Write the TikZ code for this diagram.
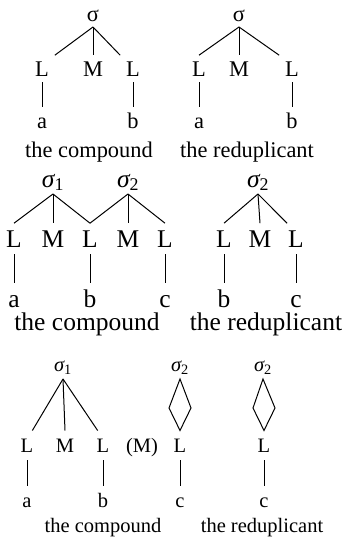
\documentclass[tikz,border=0pt]{standalone}
\usepackage{fontspec}
\setmainfont{Liberation Serif}
\newcommand{\syl}[1]{{\itshape σ}\textsubscript{#1}}

\begin{document}
\begin{tikzpicture}[x=1pt,y=-1pt,line width=1pt]

    \tikzstyle{p1} = [font=\fontsize{22.4}{27}\selectfont, text height=14.8pt, outer sep=6pt]
    \tikzstyle{p2} = [font=\fontsize{25.5}{30}\selectfont, text height=16.8pt, outer sep=7pt]
    \tikzstyle{p3} = [font=\fontsize{20.5}{25}\selectfont, text height=13.5pt, outer sep=8pt]
    \tikzstyle{seg} = [inner sep=0pt, text depth=0pt, anchor=base]
    \tikzstyle{gloss} = [inner sep=0pt, anchor=base]

    \useasboundingbox (0,0) rectangle (344,538);

    % first row
    \node[seg,p1] (s1) at (93,21) {σ};
    \node[seg,p1] (l1) at (42,76) {L};
    \node[seg,p1] (m1) at (93,76) {M};
    \node[seg,p1] (l2) at (133,76) {L};
    \node[seg,p1] (a1) at (42,128) {a};
    \node[seg,p1] (b1) at (133,128) {b};
    \node[gloss,p1] (g1) at (89,157) {the compound};

    \node[seg,p1] (s2) at (239,21) {σ};
    \node[seg,p1] (l3) at (199,76) {L};
    \node[seg,p1] (m2) at (239,76) {M};
    \node[seg,p1] (l4) at (292,76) {L};
    \node[seg,p1] (a2) at (199,128) {a};
    \node[seg,p1] (b2) at (292,128) {b};
    \node[gloss,p1] (g2) at (247,157) {the reduplicant};

    \draw (s1.south) -- (l1.north east);
    \draw (s1.south) -- (m1.north);
    \draw (s1.south) -- (l2.north west);
    \draw (l1) -- (a1);
    \draw (l2) -- (b1);
    \draw (s2.south) -- (l3.north);
    \draw (s2.south) -- (m2.north);
    \draw (s2.south) -- (l4.north west);
    \draw (l3) -- (a2);
    \draw (l4) -- (b2);

    % second row
    \node[seg,p2] (s3) at (53,187) {\syl{1}};
    \node[seg,p2] (s4) at (128,187) {\syl{2}};
    \node[seg,p2] (l5) at (14,247) {L};
    \node[seg,p2] (m3) at (53,247) {M};
    \node[seg,p2] (l6) at (90,247) {L};
    \node[seg,p2] (m4) at (128,247) {M};
    \node[seg,p2] (l7) at (165,247) {L};
    \node[seg,p2] (a3) at (14,307) {a};
    \node[seg,p2] (b3) at (90,307) {b};
    \node[seg,p2] (c3) at (165,307) {c};
    \node[gloss,p2] (g3) at (87,330) {the compound};

    \node[seg,p2] (s5) at (258,187) {\syl{2}};
    \node[seg,p2] (l8) at (224,247) {L};
    \node[seg,p2] (m5) at (260,247) {M};
    \node[seg,p2] (l9) at (296,247) {L};
    \node[seg,p2] (b4) at (224,307) {b};
    \node[seg,p2] (c4) at (296,307) {c};
    \node[gloss,p2] (g4) at (266,330) {the reduplicant};

    \draw (s3.south) -- (l5.north);
    \draw (s3.south) -- (m3.north);
    \draw (s3.south) -- (l6.north);
    \draw (s4.south) -- (l6.north);
    \draw (s4.south) -- (m4.north);
    \draw (s4.south) -- (l7.north);
    \draw (l5) -- (a3);
    \draw (l6) -- (b3);
    \draw (l7) -- (c3);
    \draw (s5.south) -- (l8.north);
    \draw (s5.south) -- (m5.north);
    \draw (s5.south) -- (l9.120);
    \draw (l8) -- (b4);
    \draw (l9) -- (c4);

    % third row
    \node[seg,p3] (s6) at (63,371) {\syl{1}};
    \node[seg,p3] (s7) at (180,371) {\syl{2}};
    \node[seg,p3] (l10) at (27,452) {L};
    \node[seg,p3] (m6) at (65,452) {M};
    \node[seg,p3] (l11) at (103,452) {L};
    \node[seg,p3] (mm) at (142,452) {(M)};
    \node[seg,p3] (l12) at (180,452) {L};
    \node[seg,p3] (a5) at (27,507) {a};
    \node[seg,p3] (b5) at (103,507) {b};
    \node[seg,p3] (c5) at (180,507) {c};
    \node[gloss,p3] (g5) at (103,532) {the compound};

    \node[seg,p3] (s8) at (263,371) {\syl{2}};
    \node[seg,p3] (l13) at (264,452) {L};
    \node[seg,p3] (c6) at (264,507) {c};
    \node[gloss,p3] (g6) at (262,532) {the reduplicant};

    \coordinate (d1) at (169,408);
    \coordinate (d2) at (191,408);
    \coordinate (d3) at (253,408);
    \coordinate (d4) at (275,408);

    \draw (s6.south) -- (l10.70);
    \draw (s6.south) -- (m6.north);
    \draw (s6.south) -- (l11.110);
    \draw (s7.south) -- (d1) -- (l12.north) -- (d2) -- cycle;
    \draw (l10) -- (a5);
    \draw (l11) -- (b5);
    \draw (l12) -- (c5);
    \draw (s8.south) -- (d3) -- (l13.north) -- (d4) -- cycle;
    \draw (l13) -- (c6);
\end{tikzpicture}
\end{document}
